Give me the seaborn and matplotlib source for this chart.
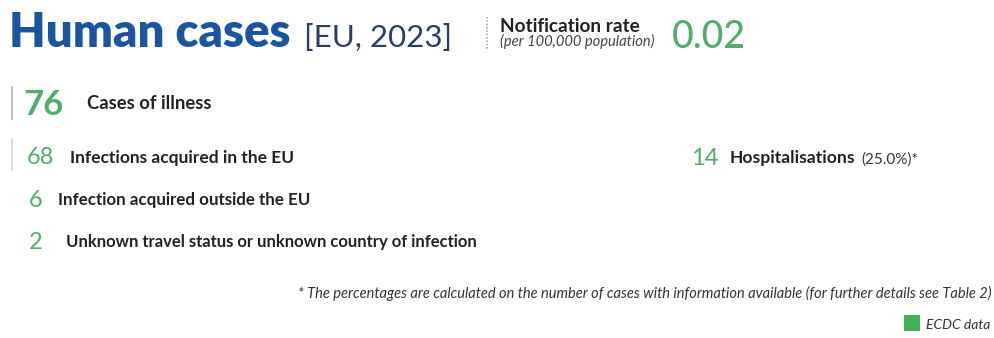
import matplotlib
matplotlib.use("Agg")
import matplotlib.pyplot as plt
import seaborn as sns
import pandas as pd

# ---- data ----
title = "Human cases"
subtitle = "[EU, 2023]"
rate_label = "Notification rate"
rate_sub = "(per 100,000 population)"
rate_value = "0.02"
total_cases = 76
total_label = "Cases of illness"
origin_values = [68, 6, 2]
origin_labels = ["Infections acquired in the EU",
                 "Infection acquired outside the EU",
                 "Unknown travel status or unknown country of infection"]
hosp_value = 14
hosp_label = "Hospitalisations"
hosp_pct = "(25.0%)*"
footnote = "* The percentages are calculated on the number of cases with information available (for further details see Table 2)"
legend_label = "ECDC data"

BLUE = "#1b55a0"
GREEN = "#4fae68"
LEG_GREEN = "#3db356"
DARK = "#222222"

sns.set_theme(style="white")
plt.rcParams['font.family'] = ['Lato', 'DejaVu Sans']

fig = plt.figure(figsize=(9.94, 3.38), dpi=100)
ax = fig.add_axes([0, 0, 1, 1])

# header
ax.text(9, 47, title, color=BLUE, fontsize=34, fontweight="heavy", va="baseline")
ax.text(304, 47, subtitle, color="#2a3f66", fontsize=22.5, fontweight="normal", va="baseline")
ax.plot([487, 487], [17, 50], color="#aaaaaa", lw=1.2, ls=(0, (1, 1)))
ax.text(500, 32, rate_label, color=DARK, fontsize=13.7, fontweight="bold", va="baseline")
ax.text(500, 46, rate_sub, color="#444444", fontsize=10.6, style="italic", va="baseline")
ax.text(672, 48, rate_value, color=GREEN, fontsize=27, fontweight="medium", va="baseline")

# total
ax.plot([12, 12], [87, 119], color="#bbbbbb", lw=1.5)
ax.text(23, 115, str(total_cases), color=GREEN, fontsize=25, fontweight="bold", va="baseline")
ax.text(87, 109, total_label, color=DARK, fontsize=13.3, fontweight="bold", va="baseline")

# breakdown
ax.plot([12, 12], [139, 170], color="#dddddd", lw=1.5)
rows = pd.DataFrame({"value": origin_values, "label": origin_labels,
                     "y": [164, 207, 249], "xn": [27, 29, 29], "xl": [70, 58, 66],
                     "fs": [12.5, 12.2, 11.95]})
for _, r in rows.iterrows():
    ax.text(r.xn, r.y, str(r.value), color=GREEN, fontsize=17, va="baseline")
    ax.text(r.xl, r.y - 1.5, r.label, color=DARK, fontsize=r.fs, fontweight="bold", va="baseline")

# hospitalisations
ax.text(691, 165, str(hosp_value), color=GREEN, fontsize=17, va="baseline")
ax.text(730, 163.5, hosp_label, color=DARK, fontsize=12.6, fontweight="bold", va="baseline")
ax.text(861, 163.5, hosp_pct, color="#333333", fontsize=11, va="baseline")

# footnote
ax.text(992, 298, footnote, color="#333333", fontsize=10.5, style="italic", va="baseline", ha="right")

# legend
leg = pd.DataFrame({"x": [912], "y": [323], "label": [legend_label]})
sns.scatterplot(data=leg, x="x", y="y", marker="s", s=130, color=LEG_GREEN,
                edgecolor="none", ax=ax, legend=False)
ax.text(926, 329, legend_label, color="#333333", fontsize=10, style="italic", va="baseline")
ax.set_xlim(0, 994)
ax.set_ylim(338, 0)
ax.axis("off")

fig.savefig("out.png", dpi=100, facecolor="white")
